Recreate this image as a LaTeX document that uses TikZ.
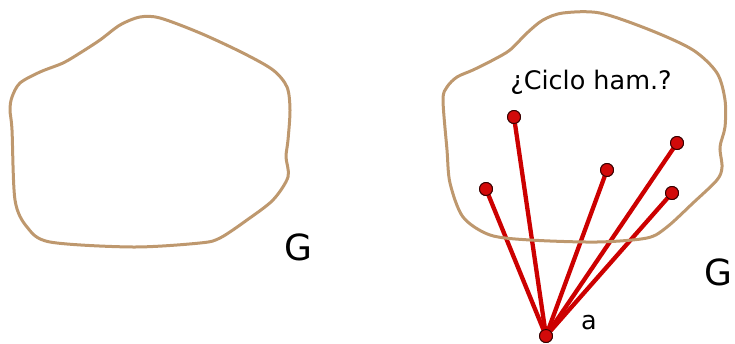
\documentclass[tikz,border=0pt]{standalone}
\usepackage{fontspec}
\setmainfont{DejaVu Sans}
\definecolor{tan}{RGB}{190,152,110}
\definecolor{edgered}{RGB}{204,0,0}
\definecolor{dotred}{RGB}{210,10,10}
\begin{document}
\begin{tikzpicture}[x=1pt,y=-1pt,
  region/.style={draw=tan,line width=3pt,line join=round},
  vtx/.style={circle,fill=dotred,draw=black!80!red,line width=0.9pt,inner sep=0pt,minimum size=13pt},
  edge/.style={draw=edgered,line width=4.3pt},
  lbl/.style={inner sep=0pt,font=\fontsize{25.5}{28}\selectfont},
  glbl/.style={inner sep=0pt,font=\fontsize{36}{40}\selectfont}]
\useasboundingbox (0,0) rectangle (735,343);
% left region
\draw[region] plot[smooth cycle,tension=0.5] coordinates {
 (140,17) (160,18) (200,33) (243,53) (273,70) (287,87) (290,110) (288,140)
 (286,157) (288,177) (273,200) (247,220) (220,238) (200,243) (133,247) (50,242)
 (27,227) (15,200) (12,130) (10,110) (12,97) (20,83) (40,72) (63,63) (80,53)
 (100,40) (120,25)};
\node[glbl] (G1) at (298,247) {G};
% right region edges
\node[vtx] (v1) at (514,117) {};
\node[vtx] (v2) at (486,189) {};
\node[vtx] (v3) at (607,170) {};
\node[vtx] (v4) at (677,143) {};
\node[vtx] (v5) at (672,193) {};
\node[vtx] (a) at (546,336) {};
\foreach \v in {v1,v2,v3,v4,v5} \draw[edge] (a.center) -- (\v.center);
\draw[region] plot[smooth cycle,tension=0.5] coordinates {
 (563,13) (600,13) (650,30) (693,50) (717,73) (725,100) (725,127) (720,147)
 (722,167) (717,180) (693,203) (667,227) (647,238) (597,242) (530,240)
 (490,235) (463,217) (450,183) (447,150) (443,100) (447,87) (457,77) (473,70)
 (493,60) (510,50) (527,33) (543,20)};
\foreach \v in {v1,v2,v3,v4,v5,a} \node[vtx] at (\v) {};
\node[lbl] (q) at (591,82) {¿Ciclo ham.?};
\node[lbl] (al) at (589,323) {a};
\node[glbl] (G2) at (718,272) {G};
\end{tikzpicture}
\end{document}
